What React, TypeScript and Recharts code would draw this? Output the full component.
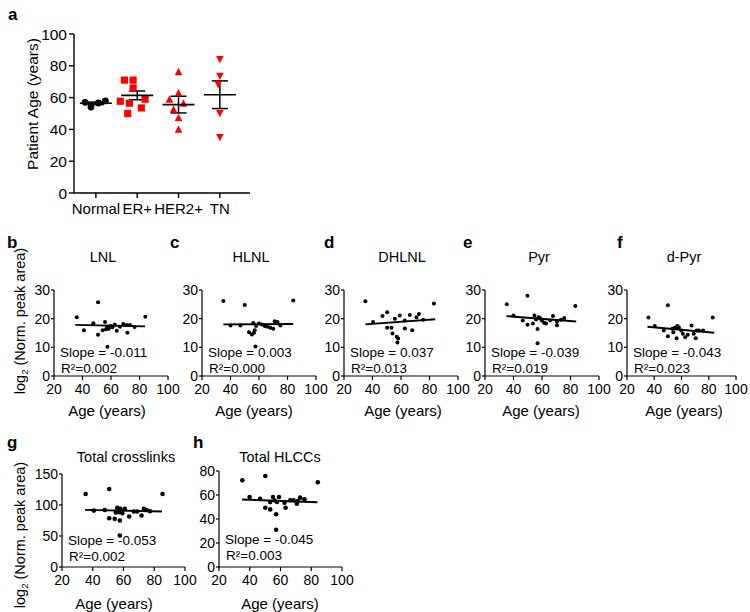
import React from 'react';
import { ComposedChart, Scatter, Line, XAxis, YAxis, ErrorBar } from 'recharts';

const FONT = '"Liberation Sans", Arial, Helvetica, sans-serif';
const RED = '#ff0000';

// ---------- Panel a data ----------
const groupNames = ['Normal', 'ER+', 'HER2+', 'TN'];
const normalAges = [57.0, 54.1, 56.6, 57.9];
const normalJitter = [-0.26, -0.12, 0.06, 0.23];
const erAges = [71, 71, 66, 57.7, 56.5, 59, 53.5, 50];
const erJitter = [-0.31, -0.1, -0.1, -0.41, -0.19, 0.19, 0.1, -0.23];
const her2Ages = [76, 62.7, 58.7, 56.2, 52.4, 47.2, 39.8];
const her2Jitter = [0, 0, -0.22, 0.12, -0.12, 0, 0];
const tnAges = [84.3, 73.8, 68.6, 50.3, 35.2];
const tnJitter = [0, 0, -0.04, 0, 0];
const groupMeans = [56.4, 61.4, 55.6, 61.8];
const groupSem = [0.8, 2.75, 5.25, 8.7];

// ---------- Panels b-h data: [age, value] ----------
const lnlPoints: [number, number][] = [
  [36, 20.5], [41, 16.0], [47.6, 18.4], [50.9, 25.7], [50.9, 14.4], [54.2, 16.0], [55.8, 18.8],
  [56.5, 16.3], [57.4, 17.2], [57.5, 10.2], [58.4, 16.5], [59.8, 17.4], [61, 17.0], [62.6, 18.0],
  [64, 15.8], [66.3, 17.2], [68.6, 18.1], [71, 17.8], [71.5, 15.1], [73.3, 17.8], [76.6, 17.1], [84.1, 20.7],
];
const lnlFit: [number, number][] = [[35, 17.85], [84, 17.3]];

const hlnlPoints: [number, number][] = [
  [35, 26.2], [40, 17.6], [47, 17.6], [50, 24.8], [53, 15.3], [55, 14.5], [56, 18.5], [56.5, 15.1],
  [57, 16.0], [57.5, 10.3], [58, 17.4], [60, 18.3], [62, 18.0], [64, 17.4], [66, 17.2], [68, 16.8],
  [70, 16.5], [71, 19.1], [73, 18.8], [75, 17.6], [84, 26.3],
];
const hlnlFit: [number, number][] = [[35, 18.0], [84, 18.15]];

const dhlnlPoints: [number, number][] = [
  [35, 26.1], [40.4, 18.8], [47, 20.9], [50.3, 22.2], [50.3, 16.8], [53.3, 16.8], [54, 14.8],
  [55.7, 20.0], [57, 13.7], [57.5, 11.7], [58, 13.1], [59.2, 21.1], [62.7, 19.4], [62.7, 16.6],
  [66.2, 21.3], [67.9, 16.0], [70.9, 20.5], [72.6, 21.6], [75.6, 19.6], [83.1, 25.3],
];
const dhlnlFit: [number, number][] = [[35, 18.0], [84, 19.8]];

const pyrPoints: [number, number][] = [
  [35.3, 25.0], [40, 21.1], [46.5, 19.4], [49.8, 28.0], [49.8, 17.9], [53.6, 18.3], [54.7, 21.1],
  [55.9, 19.7], [56.9, 16.4], [56.9, 11.4], [57.6, 20.5], [58.7, 20.2], [59.9, 19.4], [61.5, 18.6],
  [62.9, 18.3], [65.8, 19.4], [67.7, 20.9], [70.5, 18.9], [70.5, 17.7], [73.3, 19.6], [75.6, 20.2], [83.4, 24.4],
];
const pyrFit: [number, number][] = [[35, 20.9], [84, 19.0]];

const dpyrPoints: [number, number][] = [
  [35.7, 20.4], [40.4, 17.4], [47, 15.9], [50, 24.7], [50, 13.9], [53.3, 16.5], [54, 15.3], [55, 16.8],
  [56.4, 13.2], [56.9, 17.4], [57.6, 16.7], [58, 17.0], [59.9, 15.9], [61, 14.7], [62.7, 13.5],
  [64.6, 14.4], [67.4, 17.6], [69, 14.7], [70.5, 13.2], [71.2, 15.9], [72.8, 15.9], [75.9, 15.9], [82.9, 20.4],
];
const dpyrFit: [number, number][] = [[35, 17.2], [84, 15.1]];

const totalXlPoints: [number, number][] = [
  [35.4, 117.8], [40.7, 91], [47.8, 92], [50.7, 125.9], [50.7, 78.7], [54.3, 77.7], [55, 88],
  [55.9, 95.3], [57.2, 88.4], [57.6, 75], [57.6, 50.9], [58, 93.7], [59.3, 86.8], [60.9, 93.7],
  [63.7, 81.4], [66.7, 89.4], [68.9, 89.4], [71.7, 83], [73.3, 93.7], [75, 92], [77.2, 90], [85.4, 117.8],
];
const totalXlFit: [number, number][] = [[35, 92.1], [85, 89.4]];

const hlccPoints: [number, number][] = [
  [35.2, 72.2], [39.9, 58.3], [46.8, 56.9], [50.1, 75.8], [50.1, 49.4], [53.3, 48], [53.3, 54.2],
  [55.1, 58.3], [56.1, 55.6], [57.2, 43.9], [57.2, 31.1], [57.7, 54.2], [59, 58.3], [62.6, 53.6],
  [63.3, 49.4], [66.3, 55.6], [68.5, 55.6], [70.6, 52.8], [71.3, 55], [72.8, 57.8], [75.6, 56.4], [84.3, 70.6],
];
const hlccFit: [number, number][] = [[35, 56.2], [84, 54.0]];

const smallTitles = ['LNL', 'HLNL', 'DHLNL', 'Pyr', 'd-Pyr', 'Total crosslinks', 'Total HLCCs'];
const smallLetters = ['b', 'c', 'd', 'e', 'f', 'g', 'h'];
const slopeTexts = ['Slope = -0.011', 'Slope = 0.003', 'Slope = 0.037', 'Slope = -0.039', 'Slope = -0.043', 'Slope = -0.053', 'Slope = -0.045'];
const r2Texts = ['R²=0.002', 'R²=0.000', 'R²=0.013', 'R²=0.019', 'R²=0.023', 'R²=0.002', 'R²=0.003'];
const yTicks30 = [0, 10, 20, 30];
const yTicks150 = [0, 50, 100, 150];
const yTicks80 = [0, 20, 40, 60, 80];
const xTicksAge = [20, 40, 60, 80, 100];

// ---------- layout (positions/sizes) ----------
type Cfg = {
  px: number; py: number; pw: number; ph: number; yMax: number; yTicks: number[];
  points: [number, number][]; fit: [number, number][]; r: number;
  letterX: number; letterY: number; titleX: number; titleY: number; ageX: number; ageY: number;
  slopeY: number; r2Y: number;
};

const panels: Cfg[] = [
  { px: 54, py: 290, pw: 114, ph: 86, yMax: 30, yTicks: yTicks30, points: lnlPoints, fit: lnlFit, r: 2, letterX: 7, letterY: 248, titleX: 103, titleY: 257, ageX: 107, ageY: 410, slopeY: 352, r2Y: 368 },
  { px: 202, py: 290, pw: 114, ph: 86, yMax: 30, yTicks: yTicks30, points: hlnlPoints, fit: hlnlFit, r: 2, letterX: 170, letterY: 248, titleX: 251, titleY: 257, ageX: 254, ageY: 410, slopeY: 352, r2Y: 368 },
  { px: 344, py: 290, pw: 114, ph: 86, yMax: 30, yTicks: yTicks30, points: dhlnlPoints, fit: dhlnlFit, r: 2, letterX: 324, letterY: 248, titleX: 402, titleY: 257, ageX: 403, ageY: 410, slopeY: 352, r2Y: 368 },
  { px: 485, py: 290, pw: 114, ph: 86, yMax: 30, yTicks: yTicks30, points: pyrPoints, fit: pyrFit, r: 2, letterX: 463, letterY: 248, titleX: 539, titleY: 257, ageX: 541, ageY: 410, slopeY: 352, r2Y: 368 },
  { px: 627, py: 290, pw: 109, ph: 86, yMax: 30, yTicks: yTicks30, points: dpyrPoints, fit: dpyrFit, r: 2, letterX: 617, letterY: 248, titleX: 684, titleY: 257, ageX: 684, ageY: 410, slopeY: 352, r2Y: 368 },
  { px: 62, py: 474, pw: 123, ph: 93, yMax: 150, yTicks: yTicks150, points: totalXlPoints, fit: totalXlFit, r: 2.3, letterX: 7, letterY: 448, titleX: 126, titleY: 457, ageX: 114, ageY: 603, slopeY: 540, r2Y: 556 },
  { px: 219, py: 471, pw: 123, ph: 96, yMax: 80, yTicks: yTicks80, points: hlccPoints, fit: hlccFit, r: 2.3, letterX: 193, letterY: 448, titleX: 280, titleY: 457, ageX: 280, ageY: 603, slopeY: 539, r2Y: 555 },
];

const axisStyle = { stroke: '#000', strokeWidth: 1.2 };

function SmallPanel({ cfg }: { cfg: Cfg }) {
  const YW = 40, XH = 30, MT = 12, MR = 13;
  const pts = cfg.points.map(([x, y]) => ({ x, y }));
  const fitPts = cfg.fit.map(([x, y]) => ({ x, y }));
  const dot = (p: any) => <circle cx={p.cx} cy={p.cy} r={cfg.r} fill="#000" />;
  return (
    <div style={{ position: 'absolute', left: cfg.px - YW, top: cfg.py - MT }}>
      <ComposedChart width={cfg.pw + YW + MR} height={cfg.ph + MT + XH} margin={{ top: MT, right: MR, left: 0, bottom: 0 }}>
        <XAxis type="number" dataKey="x" domain={[20, 100]} ticks={xTicksAge} interval={0} height={XH}
          axisLine={axisStyle} tickLine={axisStyle} tickSize={4} tickMargin={4}
          tick={{ fill: '#000', fontSize: 14 }} />
        <YAxis type="number" dataKey="y" domain={[0, cfg.yMax]} ticks={cfg.yTicks} interval={0} width={YW}
          axisLine={axisStyle} tickLine={axisStyle} tickSize={3} tickMargin={1}
          tick={{ fill: '#000', fontSize: 14 }} />
        <Scatter data={pts} shape={dot} isAnimationActive={false} />
        <Line data={fitPts} dataKey="y" stroke="#000" strokeWidth={1.9} dot={false} isAnimationActive={false} />
      </ComposedChart>
    </div>
  );
}

function PanelA() {
  const mk = (vals: number[], jit: number[], gi: number) => vals.map((y, i) => ({ x: gi + 1 + jit[i], y }));
  const normalPts = mk(normalAges, normalJitter, 0);
  const erPts = mk(erAges, erJitter, 1);
  const her2Pts = mk(her2Ages, her2Jitter, 2);
  const tnPts = mk(tnAges, tnJitter, 3);
  const meanPts = groupMeans.map((y, i) => ({ x: i + 1, y, sem: groupSem[i] }));
  const circle = (p: any) => <circle cx={p.cx} cy={p.cy} r={3.4} fill="#000" />;
  const square = (p: any) => <rect x={p.cx - 3.6} y={p.cy - 3.6} width={7.2} height={7.2} fill={RED} />;
  const triUp = (p: any) => <polygon points={`${p.cx},${p.cy - 4.3} ${p.cx - 3.8},${p.cy + 3} ${p.cx + 3.8},${p.cy + 3}`} fill={RED} />;
  const triDown = (p: any) => <polygon points={`${p.cx},${p.cy + 4.3} ${p.cx - 3.8},${p.cy - 3} ${p.cx + 3.8},${p.cy - 3}`} fill={RED} />;
  const meanLine = (p: any) => <line x1={p.cx - 16} x2={p.cx + 16} y1={p.cy} y2={p.cy} stroke="#000" strokeWidth={1.6} />;
  const YW = 45, MT = 12, XH = 32, MR = 5;
  const pw = 176, ph = 159;
  return (
    <div style={{ position: 'absolute', left: 74 - YW, top: 34 - MT }}>
      <ComposedChart width={pw + YW + MR} height={ph + MT + XH} margin={{ top: MT, right: MR, left: 0, bottom: 0 }}>
        <XAxis type="number" dataKey="x" domain={[0.47, 4.73]} ticks={[1, 2, 3, 4]} interval={0} height={XH}
          tickFormatter={(v: number) => groupNames[v - 1]}
          axisLine={{ stroke: '#000', strokeWidth: 1.4 }} tickLine={{ stroke: '#000', strokeWidth: 1.4 }}
          tickSize={5} tickMargin={5} tick={{ fill: '#000', fontSize: 15 }} />
        <YAxis type="number" dataKey="y" domain={[0, 100]} ticks={[0, 20, 40, 60, 80, 100]} interval={0} width={YW}
          axisLine={{ stroke: '#000', strokeWidth: 1.4 }} tickLine={{ stroke: '#000', strokeWidth: 1.4 }}
          tickSize={5} tickMargin={2} tick={{ fill: '#000', fontSize: 15.5 }} />
        <Scatter data={normalPts} shape={circle} isAnimationActive={false} />
        <Scatter data={erPts} shape={square} isAnimationActive={false} />
        <Scatter data={her2Pts} shape={triUp} isAnimationActive={false} />
        <Scatter data={tnPts} shape={triDown} isAnimationActive={false} />
        <Scatter data={meanPts} shape={meanLine} isAnimationActive={false}>
          <ErrorBar dataKey="sem" direction="y" width={8} stroke="#000" strokeWidth={1.5} />
        </Scatter>
      </ComposedChart>
    </div>
  );
}

function Overlay() {
  return (
    <svg width={750} height={612} style={{ position: 'absolute', left: 0, top: 0, pointerEvents: 'none' }} fontFamily={FONT}>
      <text x={8} y={20} fontSize={17} fontWeight="bold" fill="#000">a</text>
      <text x={32} y={104} fontSize={15.5} fill="#000" textAnchor="middle" dominantBaseline="central" transform="rotate(-90 32 104)">Patient Age (years)</text>
      {panels.map((c, i) => (
        <g key={i}>
          <text x={c.letterX} y={c.letterY} fontSize={17} fontWeight="bold" fill="#000">{smallLetters[i]}</text>
          <text x={c.titleX} y={c.titleY} fontSize={14.5} fill="#000" textAnchor="middle" dominantBaseline="central">{smallTitles[i]}</text>
          <text x={c.ageX} y={c.ageY} fontSize={15} fill="#000" textAnchor="middle" dominantBaseline="central">Age (years)</text>
          <text x={c.px + 6} y={c.slopeY} fontSize={13.5} fill="#000" dominantBaseline="central">{slopeTexts[i]}</text>
          <text x={c.px + 7} y={c.r2Y} fontSize={13.5} fill="#000" dominantBaseline="central">{r2Texts[i]}</text>
        </g>
      ))}
      {[{ x: 20, y: 321 }, { x: 20, y: 535 }].map((p, i) => (
        <text key={i} x={p.x} y={p.y} fontSize={14.5} fill="#000" textAnchor="middle" dominantBaseline="central" transform={`rotate(-90 ${p.x} ${p.y})`}>
          log<tspan fontSize={9.5} dy={4}>2</tspan><tspan dy={-4}> (Norm. peak area)</tspan>
        </text>
      ))}
    </svg>
  );
}

export default function App() {
  return (
    <div style={{ position: 'absolute', left: 0, top: 0, width: 750, height: 612, background: '#fff', fontFamily: FONT, overflow: 'hidden' }}>
      <PanelA />
      {panels.map((c, i) => <SmallPanel key={i} cfg={c} />)}
      <Overlay />
    </div>
  );
}
